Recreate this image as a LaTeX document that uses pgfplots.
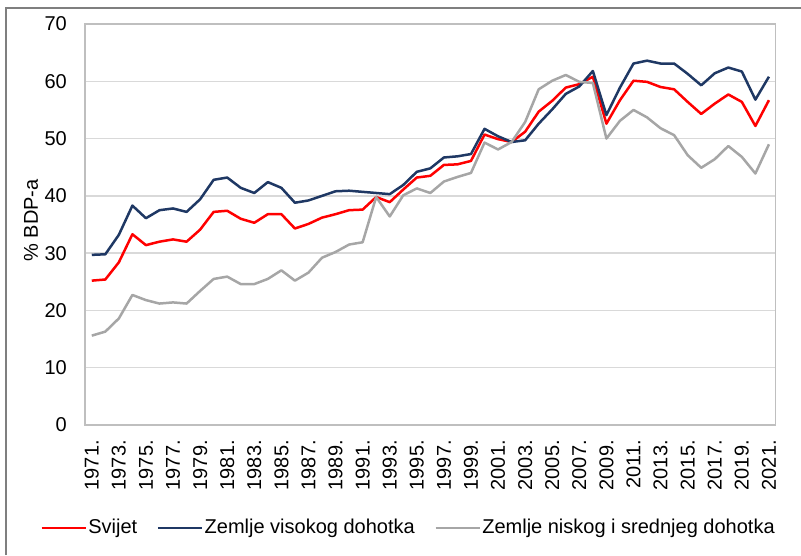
\documentclass[border=0pt]{standalone}
\usepackage{fontspec}
\setmainfont{Liberation Sans}
\usepackage{pgfplots}
\pgfplotsset{compat=1.18}
\usepackage{pgfplotstable}
\definecolor{cRed}{HTML}{FF0000}
\definecolor{cBlue}{HTML}{1F3864}
\definecolor{cGray}{HTML}{A6A6A6}
\definecolor{cGrid}{HTML}{D9D9D9}
\definecolor{cFrame}{HTML}{BFBFBF}
\definecolor{cOuter}{HTML}{7F7F7F}

\pgfplotstableread{
year svijet visoki niski
1971 25.2 29.7 15.6
1972 25.4 29.8 16.3
1973 28.4 33.2 18.6
1974 33.3 38.3 22.7
1975 31.4 36.1 21.8
1976 32.0 37.5 21.2
1977 32.4 37.8 21.4
1978 32.0 37.2 21.2
1979 34.1 39.4 23.4
1980 37.2 42.8 25.5
1981 37.4 43.2 25.9
1982 36.0 41.4 24.6
1983 35.3 40.5 24.6
1984 36.8 42.4 25.5
1985 36.8 41.4 27.0
1986 34.3 38.8 25.2
1987 35.1 39.2 26.6
1988 36.2 40.0 29.2
1989 36.8 40.8 30.2
1990 37.5 40.9 31.5
1991 37.6 40.7 31.9
1992 39.8 40.5 39.8
1993 38.9 40.3 36.4
1994 41.1 41.9 40.1
1995 43.2 44.2 41.3
1996 43.5 44.8 40.5
1997 45.4 46.7 42.5
1998 45.5 46.9 43.3
1999 46.1 47.3 44.0
2000 50.7 51.7 49.3
2001 49.9 50.4 48.1
2002 49.4 49.4 49.4
2003 51.2 49.7 52.9
2004 54.7 52.6 58.6
2005 56.6 55.1 60.1
2006 58.9 57.8 61.1
2007 59.5 59.1 59.9
2008 60.8 61.8 59.7
2009 52.6 54.1 50.0
2010 56.7 58.9 53.1
2011 60.1 63.1 55.0
2012 59.9 63.6 53.7
2013 59.0 63.1 51.8
2014 58.6 63.1 50.6
2015 56.4 61.3 47.1
2016 54.3 59.3 44.9
2017 56.1 61.4 46.4
2018 57.7 62.4 48.7
2019 56.4 61.7 46.8
2020 52.2 56.8 43.9
2021 56.7 60.8 49.0
}\datatable

\begin{document}
\fontsize{20pt}{24pt}\selectfont
\begin{tikzpicture}
\useasboundingbox (0,0) rectangle (801pt,555pt);
\draw[cOuter, line width=2pt] (6pt,0pt) -- (6pt,547pt) -- (801pt,547pt);
\begin{axis}[
  at={(85pt,130pt)}, anchor=south west,
  scale only axis,
  width=690.7pt, height=401pt,
  xmin=1970.5, xmax=2021.5,
  ymin=0, ymax=70,
  ytick={0,10,...,70},
  xtick={1971,1973,...,2021},
  xticklabels={1971.,1973.,1975.,1977.,1979.,1981.,1983.,1985.,1987.,1989.,1991.,1993.,1995.,1997.,1999.,2001.,2003.,2005.,2007.,2009.,2011.,2013.,2015.,2017.,2019.,2021.},
  major tick length=0pt,
  ymajorgrids,
  grid style={cGrid, line width=1.5pt},
  axis line style={cFrame, line width=1.5pt},
  /pgf/number format/assume math mode=true,
  tick label style={font=\fontsize{20pt}{24pt}\selectfont, black},
  yticklabel style={inner xsep=0pt, xshift=-18pt},
  xticklabel style={yshift=-15pt, rotate=90, anchor=east, inner xsep=0pt},
  ylabel={\% BDP-a},
  ylabel style={at={(axis description cs:-0.078,0.51)}, anchor=center, font=\fontsize{20pt}{24pt}\selectfont},
  legend columns=3,
  legend style={at={(axis description cs:-0.065,-0.257)}, anchor=west, draw=none, fill=none, inner sep=0pt,
    font=\fontsize{20pt}{24pt}\selectfont, nodes={inner xsep=1.5pt, inner ysep=0pt},
    /tikz/every odd column/.style={column sep=0pt},
    /tikz/every even column/.style={column sep=18pt}},
  legend image code/.code={\draw[#1] (0pt,0pt) -- (44pt,0pt);},
  every axis plot/.append style={line width=2.5pt, line join=round},
  clip=false,
]
\addplot[cRed, no markers] table[x=year, y=svijet] {\datatable};
\addlegendentry{Svijet}
\addplot[cBlue, no markers] table[x=year, y=visoki] {\datatable};
\addlegendentry{Zemlje visokog dohotka}
\addplot[cGray, no markers] table[x=year, y=niski] {\datatable};
\addlegendentry{Zemlje niskog i srednjeg dohotka}
\end{axis}
\end{tikzpicture}
\end{document}
